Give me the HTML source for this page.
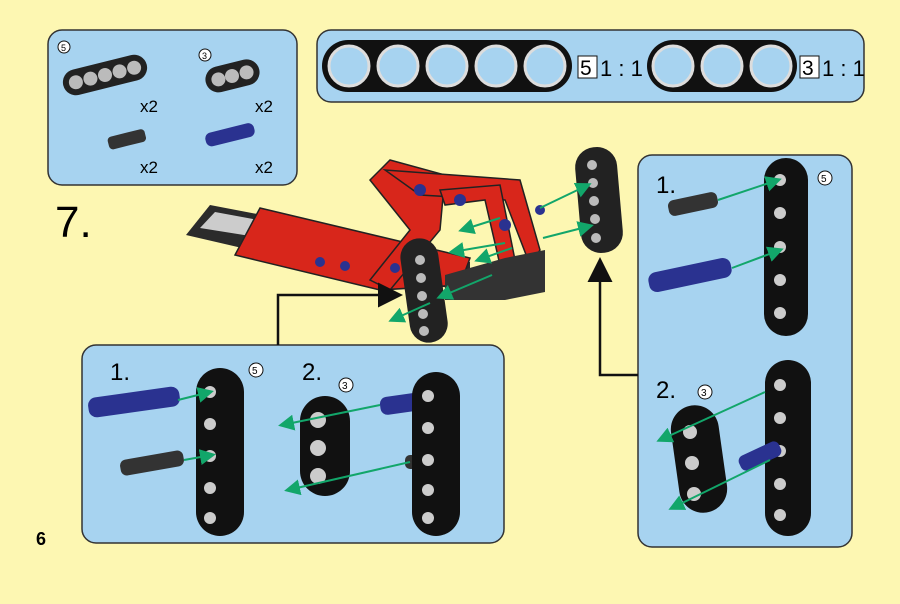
<!DOCTYPE html>
<html><head><meta charset="utf-8"><style>
html,body{margin:0;padding:0;background:#fdf7b2;}
svg{display:block;font-family:"Liberation Sans",sans-serif;}
</style></head><body>
<svg width="900" height="604" viewBox="0 0 900 604" xmlns="http://www.w3.org/2000/svg">
<defs>
<marker id="g" markerWidth="8" markerHeight="8" refX="6" refY="4" orient="auto"><path d="M0,0 L8,4 L0,8 z" fill="#12a66a"/></marker>
<marker id="k" markerWidth="10" markerHeight="10" refX="8" refY="5" orient="auto"><path d="M0,0 L10,5 L0,10 z" fill="#111"/></marker>
</defs>
<rect width="900" height="604" fill="#fdf7b2"/>
<rect x="48" y="30" width="249" height="155" rx="14" fill="#a7d3f0" stroke="#333" stroke-width="1.5"/>
<rect x="317" y="30" width="547" height="72" rx="14" fill="#a7d3f0" stroke="#333" stroke-width="1.5"/>
<rect x="638" y="155" width="214" height="392" rx="14" fill="#a7d3f0" stroke="#333" stroke-width="1.5"/>
<rect x="82" y="345" width="422" height="198" rx="14" fill="#a7d3f0" stroke="#333" stroke-width="1.5"/>
<!-- ruler -->
<rect x="322" y="40" width="250" height="52" rx="26" fill="#111"/>
<g fill="#a7d3f0" stroke="#ddd" stroke-width="3">
<circle cx="349" cy="66" r="20"/><circle cx="398" cy="66" r="20"/><circle cx="447" cy="66" r="20"/><circle cx="496" cy="66" r="20"/><circle cx="545" cy="66" r="20"/>
</g>
<rect x="578" y="56" width="19" height="22" fill="#fff" stroke="#111"/><text x="580" y="75" font-size="21">5</text>
<text x="600" y="76" font-size="22">1 : 1</text>
<rect x="647" y="40" width="150" height="52" rx="26" fill="#111"/>
<g fill="#a7d3f0" stroke="#ddd" stroke-width="3">
<circle cx="673" cy="66" r="20"/><circle cx="722" cy="66" r="20"/><circle cx="771" cy="66" r="20"/>
</g>
<rect x="800" y="56" width="19" height="22" fill="#fff" stroke="#111"/><text x="802" y="75" font-size="21">3</text>
<text x="822" y="76" font-size="22">1 : 1</text>
<!-- parts -->
<circle cx="64" cy="47" r="6" fill="#fff" stroke="#111"/><text x="61" y="51" font-size="9">5</text>
<circle cx="205" cy="55" r="6" fill="#fff" stroke="#111"/><text x="202" y="59" font-size="9">3</text>
<g transform="rotate(-14 105 75)"><rect x="62" y="62" width="86" height="26" rx="13" fill="#222"/><g fill="#bbb"><circle cx="75" cy="75" r="7"/><circle cx="90" cy="75" r="7"/><circle cx="105" cy="75" r="7"/><circle cx="120" cy="75" r="7"/><circle cx="135" cy="75" r="7"/></g></g>
<g transform="rotate(-14 232 76)"><rect x="205" y="63" width="55" height="26" rx="13" fill="#222"/><g fill="#bbb"><circle cx="218" cy="76" r="7"/><circle cx="232" cy="76" r="7"/><circle cx="247" cy="76" r="7"/></g></g>
<text x="140" y="112" font-size="17">x2</text><text x="255" y="112" font-size="17">x2</text>
<rect x="108" y="133" width="38" height="13" rx="4" fill="#333" transform="rotate(-14 126 140)"/>
<rect x="205" y="128" width="50" height="14" rx="6" fill="#2a3290" transform="rotate(-14 229 135)"/>
<text x="140" y="173" font-size="17">x2</text><text x="255" y="173" font-size="17">x2</text>
<text x="55" y="237" font-size="44">7.</text>
<text x="36" y="545" font-size="18" font-weight="bold">6</text>
<!-- assembly -->
<g>
<polygon points="186,235 210,205 420,245 470,262 470,290 380,280" fill="#2b2b2b"/>
<polygon points="200,228 215,212 420,250 415,262" fill="#ccc"/>
<polygon points="235,255 260,208 470,258 460,285 380,290" fill="#d8261b" stroke="#222" stroke-width="1.5"/>
<path d="M370,180 L390,160 L445,175 L440,230 L390,290 L370,280 L410,230 Z" fill="#d8261b" stroke="#222" stroke-width="1.5"/>
<path d="M385,170 L520,180 L540,250 L530,265 L505,200 L420,195 Z" fill="#d8261b" stroke="#222" stroke-width="1.5"/>
<path d="M440,190 L500,185 L515,260 L500,265 L485,200 L445,205 Z" fill="#d8261b" stroke="#222" stroke-width="1.5"/>
<polygon points="445,275 505,258 545,250 545,292 505,300 445,300" fill="#333"/>
<g fill="#2a3290"><circle cx="320" cy="262" r="5"/><circle cx="345" cy="266" r="5"/><circle cx="395" cy="268" r="5"/><circle cx="420" cy="190" r="6"/><circle cx="460" cy="200" r="6"/><circle cx="505" cy="225" r="6"/><circle cx="540" cy="210" r="5"/><circle cx="585" cy="212" r="5"/></g>
<rect x="405" y="238" width="38" height="105" rx="19" fill="#222" transform="rotate(-8 424 290)"/>
<g fill="#bbb"><circle cx="420" cy="260" r="5"/><circle cx="421" cy="278" r="5"/><circle cx="422" cy="296" r="5"/><circle cx="423" cy="314" r="5"/><circle cx="424" cy="331" r="5"/></g>
<rect x="578" y="147" width="42" height="106" rx="20" fill="#222" transform="rotate(-5 599 200)"/>
<g fill="#bbb"><circle cx="592" cy="165" r="5"/><circle cx="593" cy="183" r="5"/><circle cx="594" cy="201" r="5"/><circle cx="595" cy="219" r="5"/><circle cx="596" cy="238" r="5"/></g>
</g>
<g stroke="#12a66a" stroke-width="2" marker-end="url(#g)">
<line x1="540" y1="208" x2="588" y2="185"/><line x1="543" y1="238" x2="590" y2="226"/>
<line x1="500" y1="218" x2="462" y2="230"/><line x1="505" y1="243" x2="452" y2="252"/><line x1="512" y1="248" x2="478" y2="260"/>
<line x1="492" y1="275" x2="440" y2="297"/><line x1="430" y1="303" x2="392" y2="320"/>
</g>
<polyline points="278,345 278,295 398,295" fill="none" stroke="#111" stroke-width="2.5" marker-end="url(#k)"/>
<polyline points="638,375 600,375 600,262" fill="none" stroke="#111" stroke-width="2.5" marker-end="url(#k)"/>
<!-- right panel -->
<text x="656" y="193" font-size="24">1.</text>
<circle cx="825" cy="178" r="7" fill="#fff" stroke="#111"/><text x="821" y="182" font-size="10">5</text>
<rect x="668" y="196" width="50" height="16" rx="6" fill="#333" transform="rotate(-12 693 204)"/>
<rect x="648" y="265" width="84" height="20" rx="8" fill="#2a3290" transform="rotate(-12 690 275)"/>
<rect x="764" y="158" width="44" height="178" rx="22" fill="#111"/>
<g fill="#ccc"><circle cx="780" cy="180" r="6"/><circle cx="780" cy="213" r="6"/><circle cx="780" cy="247" r="6"/><circle cx="780" cy="280" r="6"/><circle cx="780" cy="313" r="6"/></g>
<text x="656" y="398" font-size="24">2.</text>
<circle cx="705" cy="392" r="7" fill="#fff" stroke="#111"/><text x="701" y="396" font-size="10">3</text>
<rect x="675" y="405" width="48" height="108" rx="24" fill="#111" transform="rotate(-8 699 459)"/>
<g fill="#ccc"><circle cx="690" cy="432" r="7"/><circle cx="692" cy="463" r="7"/><circle cx="694" cy="494" r="7"/></g>
<rect x="765" y="360" width="46" height="176" rx="23" fill="#111"/>
<g fill="#ccc"><circle cx="780" cy="385" r="6"/><circle cx="780" cy="418" r="6"/><circle cx="780" cy="451" r="6"/><circle cx="780" cy="484" r="6"/><circle cx="780" cy="515" r="6"/></g>
<rect x="738" y="448" width="44" height="16" rx="6" fill="#2a3290" transform="rotate(-25 760 456)"/>
<g stroke="#12a66a" stroke-width="2" marker-end="url(#g)">
<line x1="718" y1="200" x2="778" y2="180"/><line x1="732" y1="268" x2="780" y2="250"/>
<line x1="765" y1="392" x2="660" y2="440"/><line x1="770" y1="460" x2="672" y2="508"/>
</g>
<!-- bottom panel -->
<text x="110" y="380" font-size="24">1.</text>
<circle cx="256" cy="370" r="7" fill="#fff" stroke="#111"/><text x="252" y="374" font-size="10">5</text>
<rect x="88" y="392" width="92" height="20" rx="8" fill="#2a3290" transform="rotate(-8 134 402)"/>
<rect x="120" y="455" width="64" height="16" rx="6" fill="#333" transform="rotate(-10 152 463)"/>
<rect x="196" y="368" width="48" height="168" rx="24" fill="#111"/>
<g fill="#ccc"><circle cx="210" cy="392" r="6"/><circle cx="210" cy="424" r="6"/><circle cx="210" cy="456" r="6"/><circle cx="210" cy="488" r="6"/><circle cx="210" cy="518" r="6"/></g>
<text x="302" y="380" font-size="24">2.</text>
<circle cx="346" cy="385" r="7" fill="#fff" stroke="#111"/><text x="342" y="389" font-size="10">3</text>
<rect x="300" y="396" width="50" height="100" rx="25" fill="#111"/>
<g fill="#ccc"><circle cx="318" cy="420" r="8"/><circle cx="318" cy="448" r="8"/><circle cx="318" cy="476" r="8"/></g>
<rect x="380" y="394" width="55" height="18" rx="7" fill="#2a3290" transform="rotate(-8 407 403)"/>
<rect x="405" y="455" width="30" height="14" rx="5" fill="#333"/>
<rect x="412" y="372" width="48" height="164" rx="24" fill="#111"/>
<g fill="#ccc"><circle cx="428" cy="396" r="6"/><circle cx="428" cy="428" r="6"/><circle cx="428" cy="460" r="6"/><circle cx="428" cy="490" r="6"/><circle cx="428" cy="518" r="6"/></g>
<g stroke="#12a66a" stroke-width="2" marker-end="url(#g)">
<line x1="178" y1="400" x2="210" y2="392"/><line x1="184" y1="460" x2="212" y2="455"/>
<line x1="380" y1="405" x2="282" y2="425"/><line x1="410" y1="462" x2="288" y2="490"/>
</g>
</svg>
</body></html>
